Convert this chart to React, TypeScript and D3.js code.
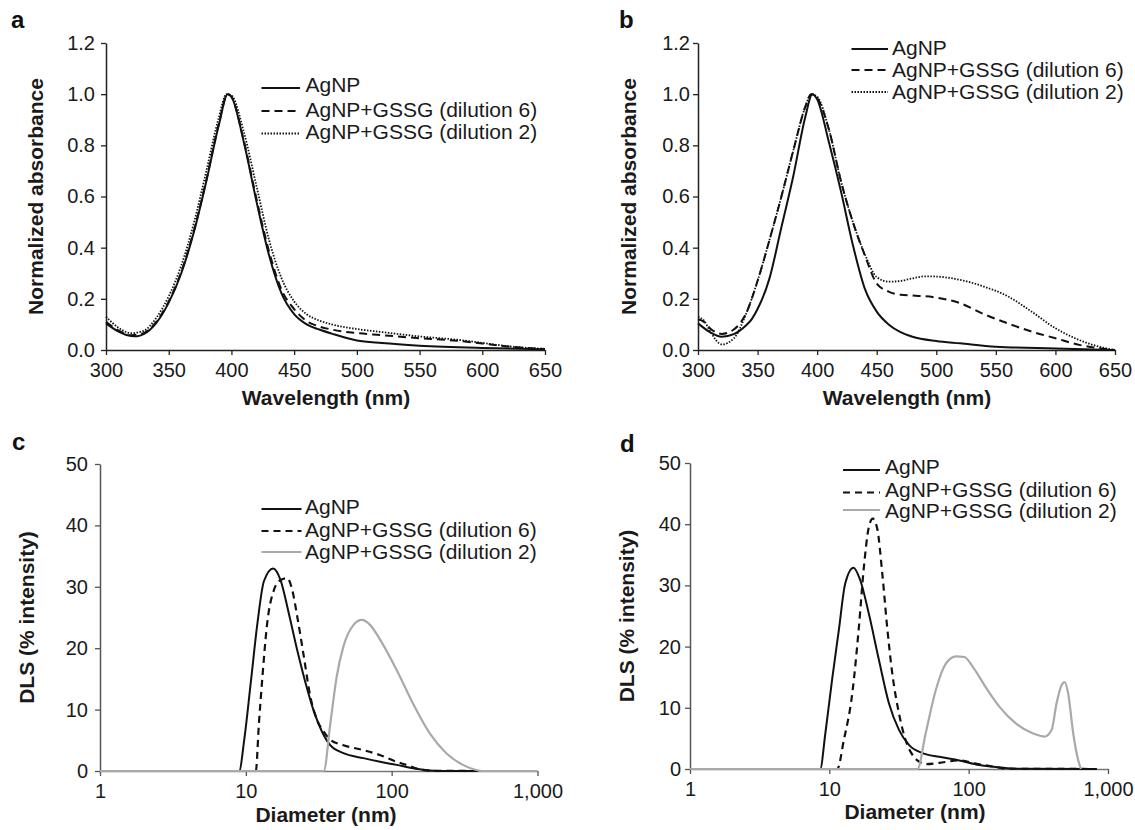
import React, { useEffect, useRef } from 'react';
import * as d3 from 'd3';

const W = 1135;
const H = 830;
const FONT = '"Liberation Sans", Arial, Helvetica, sans-serif';

// ---------------- Panel a : UV-Vis ----------------
const aWaveAgNP = [300, 310, 320, 325, 330, 340, 350, 360, 370, 380, 390, 397, 400, 410, 420, 430, 440, 450, 460, 470, 480, 500, 520, 550, 600, 650];
const aAbsAgNP = [0.104, 0.072, 0.055, 0.054, 0.062, 0.105, 0.185, 0.3, 0.46, 0.66, 0.88, 1.0, 0.99, 0.81, 0.58, 0.37, 0.22, 0.14, 0.1, 0.08, 0.064, 0.037, 0.027, 0.017, 0.008, 0.003];
const aWaveD6 = [300, 310, 320, 330, 340, 350, 360, 370, 380, 390, 397, 400, 410, 420, 430, 440, 450, 460, 470, 480, 500, 520, 550, 580, 600, 620, 650];
const aAbsD6 = [0.11, 0.076, 0.058, 0.066, 0.11, 0.19, 0.305, 0.465, 0.665, 0.885, 1.0, 0.99, 0.815, 0.59, 0.385, 0.235, 0.16, 0.113, 0.092, 0.08, 0.066, 0.058, 0.046, 0.036, 0.025, 0.014, 0.004];
const aWaveD2 = [300, 310, 320, 330, 340, 350, 360, 370, 380, 390, 396, 400, 410, 420, 430, 440, 450, 460, 470, 480, 500, 520, 550, 580, 600, 620, 650];
const aAbsD2 = [0.13, 0.087, 0.066, 0.075, 0.125, 0.21, 0.33, 0.495, 0.7, 0.91, 1.0, 0.995, 0.85, 0.64, 0.43, 0.28, 0.19, 0.14, 0.115, 0.1, 0.082, 0.07, 0.053, 0.04, 0.028, 0.015, 0.004];

// ---------------- Panel b : UV-Vis ----------------
const bWaveAgNP = [300, 310, 320, 330, 340, 345, 350, 360, 370, 380, 390, 396, 400, 410, 420, 430, 440, 450, 460, 470, 480, 500, 520, 550, 600, 650];
const bAbsAgNP = [0.104, 0.07, 0.052, 0.062, 0.095, 0.12, 0.16, 0.28, 0.48, 0.68, 0.91, 1.0, 0.98, 0.81, 0.62, 0.41, 0.24, 0.15, 0.1, 0.07, 0.052, 0.035, 0.026, 0.013, 0.006, 0.0];
const bWaveD6 = [300, 305, 310, 320, 330, 340, 350, 360, 370, 380, 390, 395, 400, 410, 420, 430, 440, 450, 460, 470, 480, 500, 520, 540, 560, 580, 600, 620, 640, 650];
const bAbsD6 = [0.12, 0.11, 0.085, 0.063, 0.08, 0.14, 0.27, 0.43, 0.6, 0.78, 0.95, 1.0, 0.985, 0.86, 0.66, 0.5, 0.37, 0.26, 0.228, 0.216, 0.213, 0.205, 0.183, 0.14, 0.104, 0.072, 0.046, 0.02, 0.005, 0.0];
const bWaveD2 = [300, 305, 310, 320, 330, 340, 350, 360, 370, 380, 390, 395, 400, 410, 420, 430, 440, 450, 460, 470, 480, 490, 500, 520, 540, 560, 580, 600, 620, 640, 650];
const bAbsD2 = [0.13, 0.115, 0.075, 0.022, 0.045, 0.137, 0.27, 0.43, 0.6, 0.78, 0.95, 1.0, 0.99, 0.86, 0.66, 0.5, 0.375, 0.285, 0.267, 0.27, 0.28, 0.288, 0.287, 0.274, 0.248, 0.21, 0.15, 0.085, 0.039, 0.009, 0.0];

// ---------------- Panel c : DLS ----------------
const cDiaAgNP = [1, 9.0, 9.74, 10.8, 12.0, 13.3, 15.4, 17.3, 19.7, 22.5, 25.7, 29.3, 33.3, 37.9, 46.7, 64, 83.3, 108, 140, 183, 237, 390];
const cIntAgNP = [0, 0, 5, 14.3, 24, 30.9, 33.0, 31.1, 25.7, 19.7, 14.3, 9.7, 6.4, 4.2, 2.9, 2.1, 1.5, 1.0, 0.43, 0.1, 0, 0];
const cDiaD6 = [1, 11.7, 12.3, 13.0, 14.0, 15.6, 17.3, 19.2, 20.8, 22.5, 25.0, 27.7, 30.8, 34.2, 38, 46.7, 64, 83, 108, 126, 148, 183, 390];
const cIntD6 = [0, 0, 7.8, 15.4, 24, 29.5, 31.1, 31.4, 29.5, 25.2, 18.6, 12.1, 8.3, 6.4, 5.1, 4.2, 3.4, 2.6, 1.5, 1.0, 0.4, 0.05, 0];
const cDiaD2 = [1, 34.2, 38, 42, 46.7, 54.8, 62.4, 71.1, 83.3, 108, 140, 183, 237, 308, 380, 420, 1000];
const cIntD2 = [0, 0, 7.8, 15.4, 20.3, 23.8, 24.6, 23.8, 21.4, 16.5, 11.0, 6.1, 2.9, 1.0, 0.16, 0, 0];

// ---------------- Panel d : DLS ----------------
const dDiaAgNP = [1, 8.6, 9.36, 10.45, 11.7, 13.0, 14.9, 16.7, 19.2, 22.7, 26.8, 31.6, 37.4, 46.6, 61.5, 85.6, 119, 166, 219, 830];
const dIntAgNP = [0, 0, 5.8, 14.5, 22.7, 30.3, 32.9, 30.8, 25.4, 17.8, 10.7, 6.4, 3.9, 2.6, 2.0, 1.4, 0.65, 0.27, 0.05, 0];
const dDiaD6 = [1, 11.4, 12.7, 14.6, 16.3, 17.7, 19.2, 20.5, 22.1, 24.0, 26.0, 28.3, 31.6, 35.3, 39.5, 44.1, 49.1, 61.5, 85.6, 112, 149, 186, 830];
const dIntD6 = [0, 0, 4.7, 12.3, 23.2, 33.0, 39.5, 40.9, 39.2, 31.9, 23.2, 15.6, 9.1, 4.7, 2.3, 1.2, 0.8, 1.0, 1.4, 0.9, 0.4, 0.05, 0];
const dDiaD2 = [1, 42.9, 49.1, 58.1, 68.6, 81.0, 93.1, 107, 134, 166, 219, 290, 352, 394, 427, 464, 489, 518, 563, 610, 639];
const dIntD2 = [0, 0, 5.8, 12.9, 17.2, 18.4, 18.3, 16.7, 13.2, 10.2, 7.4, 5.8, 5.3, 6.4, 10.7, 13.7, 14.2, 12.3, 5.8, 1.5, 0];

// ---------------- labels & ticks ----------------
const legendLabels = ['AgNP', 'AgNP+GSSG (dilution 6)', 'AgNP+GSSG (dilution 2)'];
const uvXTicks = [300, 350, 400, 450, 500, 550, 600, 650];
const uvYTicks = [0, 0.2, 0.4, 0.6, 0.8, 1.0, 1.2];
const dlsXTicks = [1, 10, 100, 1000];
const dlsYTicks = [0, 10, 20, 30, 40, 50];

type StyleKey = 'solid' | 'dashedUV' | 'dotted' | 'dashedDLS' | 'grey';
const STYLES: Record<StyleKey, { stroke: string; width: number; dash: string | null }> = {
  solid: { stroke: '#111', width: 2, dash: null },
  dashedUV: { stroke: '#111', width: 2, dash: '8,5' },
  dotted: { stroke: '#111', width: 1.8, dash: '1.5,1.5' },
  dashedDLS: { stroke: '#111', width: 2.2, dash: '7,5' },
  grey: { stroke: '#a9a9a9', width: 2.2, dash: null },
};

interface Series { x: number[]; y: number[]; style: StyleKey }
interface PanelCfg {
  letter: string; letterX: number; letterY: number;
  left: number; right: number; top: number; bottom: number;
  log: boolean; xDomain: [number, number]; yDomain: [number, number];
  xTicks: number[]; yTicks: number[];
  xFmt: (d: number) => string; yFmt: (d: number) => string;
  yPad: number; xTitle: string; xTitleX: number; xTitleY: number;
  yTitle: string; yTitleX: number;
  series: Series[];
  legend: { x1: number; x2: number; tx: number; lineYs: number[]; textYs: number[] };
  axisColor: string; xAxisColor: string;
}

const uvYFmt = d3.format('.1f');
const dlsXFmt = d3.format(',');

const panels: PanelCfg[] = [
  {
    letter: 'a', letterX: 11, letterY: 28,
    left: 106, right: 545, top: 43, bottom: 350,
    log: false, xDomain: [300, 650], yDomain: [0, 1.2],
    xTicks: uvXTicks, yTicks: uvYTicks, xFmt: (d) => String(d), yFmt: (d) => uvYFmt(d),
    yPad: 6, xTitle: 'Wavelength (nm)', xTitleX: 326, xTitleY: 405,
    yTitle: 'Normalized absorbance', yTitleX: 43,
    series: [
      { x: aWaveAgNP, y: aAbsAgNP, style: 'solid' },
      { x: aWaveD6, y: aAbsD6, style: 'dashedUV' },
      { x: aWaveD2, y: aAbsD2, style: 'dotted' },
    ],
    legend: { x1: 261.5, x2: 300, tx: 305.5, lineYs: [88, 111, 133.5], textYs: [92, 117, 139] },
    axisColor: '#222', xAxisColor: '#222',
  },
  {
    letter: 'b', letterX: 619, letterY: 28,
    left: 698, right: 1115, top: 43, bottom: 350,
    log: false, xDomain: [300, 650], yDomain: [0, 1.2],
    xTicks: uvXTicks, yTicks: uvYTicks, xFmt: (d) => String(d), yFmt: (d) => uvYFmt(d),
    yPad: 3, xTitle: 'Wavelength (nm)', xTitleX: 907, xTitleY: 405,
    yTitle: 'Normalized absorbance', yTitleX: 636,
    series: [
      { x: bWaveAgNP, y: bAbsAgNP, style: 'solid' },
      { x: bWaveD6, y: bAbsD6, style: 'dashedUV' },
      { x: bWaveD2, y: bAbsD2, style: 'dotted' },
    ],
    legend: { x1: 851.5, x2: 888, tx: 892, lineYs: [49, 70, 92], textYs: [55, 76.5, 98.5] },
    axisColor: '#222', xAxisColor: '#222',
  },
  {
    letter: 'c', letterX: 12, letterY: 450,
    left: 100, right: 537.5, top: 464, bottom: 771,
    log: true, xDomain: [1, 1000], yDomain: [0, 50],
    xTicks: dlsXTicks, yTicks: dlsYTicks, xFmt: (d) => dlsXFmt(d), yFmt: (d) => String(d),
    yPad: 7, xTitle: 'Diameter (nm)', xTitleX: 326, xTitleY: 822,
    yTitle: 'DLS (% intensity)', yTitleX: 34,
    series: [
      { x: cDiaAgNP, y: cIntAgNP, style: 'solid' },
      { x: cDiaD6, y: cIntD6, style: 'dashedDLS' },
      { x: cDiaD2, y: cIntD2, style: 'grey' },
    ],
    legend: { x1: 261.5, x2: 301.5, tx: 305, lineYs: [509, 531, 552], textYs: [514, 536.5, 559] },
    axisColor: '#555', xAxisColor: '#777',
  },
  {
    letter: 'd', letterX: 620, letterY: 452,
    left: 690, right: 1108, top: 463, bottom: 769,
    log: true, xDomain: [1, 1000], yDomain: [0, 50],
    xTicks: dlsXTicks, yTicks: dlsYTicks, xFmt: (d) => dlsXFmt(d), yFmt: (d) => String(d),
    yPad: 4, xTitle: 'Diameter (nm)', xTitleX: 915, xTitleY: 819,
    yTitle: 'DLS (% intensity)', yTitleX: 634,
    series: [
      { x: dDiaAgNP, y: dIntAgNP, style: 'solid' },
      { x: dDiaD6, y: dIntD6, style: 'dashedDLS' },
      { x: dDiaD2, y: dIntD2, style: 'grey' },
    ],
    legend: { x1: 843, x2: 880, tx: 885, lineYs: [470, 492.5, 510], textYs: [474, 496.5, 518] },
    axisColor: '#555', xAxisColor: '#777',
  },
];

function drawPanel(svg: d3.Selection<SVGSVGElement, unknown, null, undefined>, cfg: PanelCfg) {
  const g = svg.append('g');
  const x = cfg.log
    ? d3.scaleLog().domain(cfg.xDomain).range([cfg.left, cfg.right])
    : d3.scaleLinear().domain(cfg.xDomain).range([cfg.left, cfg.right]);
  const y = d3.scaleLinear().domain(cfg.yDomain).range([cfg.bottom, cfg.top]);

  // axes
  const xAxis = d3.axisBottom(x as any).tickValues(cfg.xTicks).tickSizeInner(5).tickSizeOuter(0).tickPadding(8)
    .tickFormat((d: any) => cfg.xFmt(+d));
  const gx = g.append('g').attr('transform', `translate(0,${cfg.bottom})`).call(xAxis as any);
  gx.attr('font-size', null).attr('font-family', null);
  gx.select('.domain').attr('stroke', cfg.xAxisColor).attr('stroke-width', 1.5);
  gx.selectAll('.tick line').attr('stroke', cfg.axisColor).attr('stroke-width', 1.3);
  gx.selectAll('.tick text').attr('font-family', FONT).attr('font-size', 20).attr('fill', '#1a1a1a');

  const yAxis = d3.axisLeft(y).tickValues(cfg.yTicks).tickSizeInner(5).tickSizeOuter(0).tickPadding(cfg.yPad)
    .tickFormat((d: any) => cfg.yFmt(+d));
  const gy = g.append('g').attr('transform', `translate(${cfg.left},0)`).call(yAxis as any);
  gy.attr('font-size', null).attr('font-family', null);
  gy.select('.domain').attr('stroke', cfg.axisColor).attr('stroke-width', 1.5);
  gy.selectAll('.tick line').attr('stroke', cfg.axisColor).attr('stroke-width', 1.3);
  gy.selectAll('.tick text').attr('font-family', FONT).attr('font-size', 20).attr('fill', '#1a1a1a');

  // series
  const line = d3.line<[number, number]>()
    .x((d) => x(d[0]) as number)
    .y((d) => y(d[1]))
    .curve(d3.curveMonotoneX);
  cfg.series.forEach((s) => {
    const st = STYLES[s.style];
    const pts: [number, number][] = s.x.map((v, i) => [v, s.y[i]]);
    const p = g.append('path').attr('d', line(pts) || '')
      .attr('fill', 'none').attr('stroke', st.stroke).attr('stroke-width', st.width)
      .attr('stroke-linejoin', 'round');
    if (st.dash) p.attr('stroke-dasharray', st.dash);
  });

  // legend
  cfg.series.forEach((s, i) => {
    const st = STYLES[s.style];
    const l = g.append('line')
      .attr('x1', cfg.legend.x1).attr('x2', cfg.legend.x2)
      .attr('y1', cfg.legend.lineYs[i]).attr('y2', cfg.legend.lineYs[i])
      .attr('stroke', st.stroke).attr('stroke-width', st.width);
    if (st.dash) l.attr('stroke-dasharray', st.dash);
    g.append('text').attr('x', cfg.legend.tx).attr('y', cfg.legend.textYs[i])
      .attr('font-family', FONT).attr('font-size', 21).attr('fill', '#1a1a1a')
      .text(legendLabels[i]);
  });

  // titles
  g.append('text').attr('x', cfg.xTitleX).attr('y', cfg.xTitleY)
    .attr('text-anchor', 'middle').attr('font-family', FONT).attr('font-weight', 'bold')
    .attr('font-size', 21).attr('fill', '#1a1a1a').text(cfg.xTitle);
  const cy = (cfg.top + cfg.bottom) / 2;
  g.append('text').attr('transform', `translate(${cfg.yTitleX},${cy}) rotate(-90)`)
    .attr('text-anchor', 'middle').attr('font-family', FONT).attr('font-weight', 'bold')
    .attr('font-size', 21).attr('fill', '#1a1a1a').text(cfg.yTitle);

  // panel letter
  g.append('text').attr('x', cfg.letterX).attr('y', cfg.letterY)
    .attr('font-family', FONT).attr('font-weight', 'bold').attr('font-size', 24)
    .attr('fill', '#111').text(cfg.letter);
}

export default function App() {
  const ref = useRef<SVGSVGElement | null>(null);
  useEffect(() => {
    if (!ref.current) return;
    const svg = d3.select(ref.current);
    svg.selectAll('*').remove();
    svg.append('rect').attr('x', 0).attr('y', 0).attr('width', W).attr('height', H).attr('fill', '#fff');
    panels.forEach((p) => drawPanel(svg as any, p));
  }, []);
  return (
    <svg
      ref={ref}
      width={W}
      height={H}
      viewBox={`0 0 ${W} ${H}`}
      style={{ position: 'absolute', left: 0, top: 0, display: 'block', background: '#fff' }}
    />
  );
}
